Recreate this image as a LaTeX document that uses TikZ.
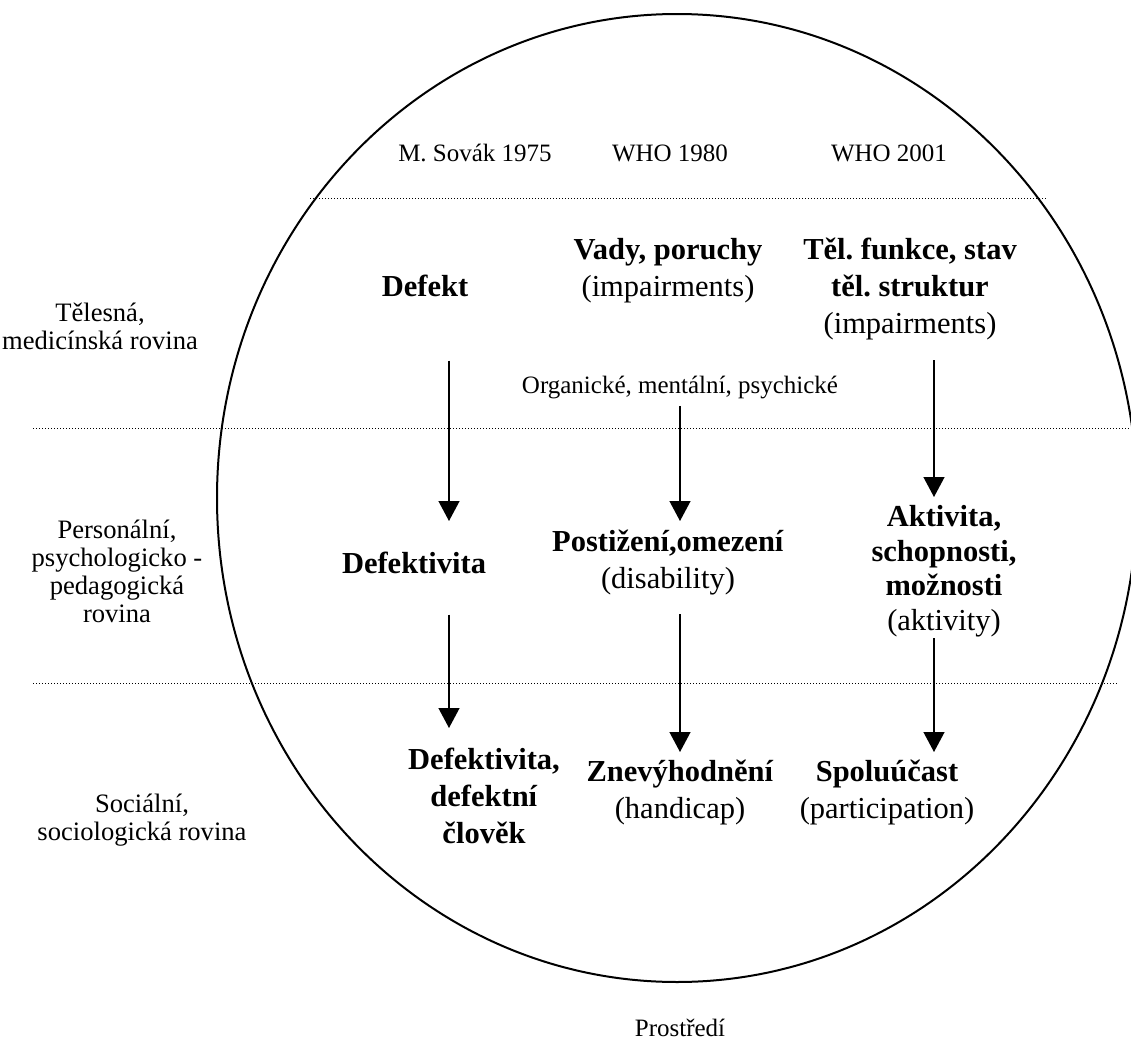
\documentclass[tikz,border=0pt]{standalone}
\usepackage{fontspec}
\setmainfont{Liberation Serif}
\frenchspacing
\usetikzlibrary{arrows.meta,positioning,calc}

\begin{document}
\begin{tikzpicture}[x=0.5pt, y=-0.5pt,
  small/.style={inner sep=0pt, align=center, font=\fontsize{12.5}{14}\selectfont},
  side/.style={small, font=\fontsize{13.3}{14}\selectfont},
  term/.style={inner sep=0pt, align=center, anchor=north, font=\fontsize{15.25}{18.5}\selectfont},
  arr/.style={-{Triangle[length=10pt, width=10.5pt]}, line width=0.65pt},
  level/.style={line width=0.5pt, dash pattern=on 0.5pt off 1pt}]
        \useasboundingbox (0,0) rectangle (1131,1039);

        % Environment and levels
        \draw[line width=1pt] (677,498) ellipse [x radius=230pt, y radius=242pt];
        \draw[level] (310,198) -- (1048,198);
        \draw[level] (33,428) -- (1131,428);
        \draw[level] (33,683) -- (1118,683);

        % Column heads
        \node[small] (hdrSovak) at (475,153) {M. Sovák 1975};
        \node[small] (hdrWho80) at (670,153) {WHO 1980};
        \node[small] (hdrWho01) at (889,153) {WHO 2001};

        % Levels (left)
        \node[side] (lvlTel) at (100,326.5) {Tělesná,\\medicínská rovina};
        \node[side] (lvlPers) at (117,571.5) {Personální,\\psychologicko -\\pedagogická\\rovina};
        \node[side] (lvlSoc) at (142,820) {Sociální,\\sociologická rovina};

        % Terms
        \node[term] (defekt) at (425,274.5) {\textbf{Defekt}};
        \node[term] (vady) at (668,237.5) {\textbf{Vady, poruchy}\\(impairments)};
        \node[term] (telfce) at (910,237.5) {\textbf{Těl. funkce, stav}\\\textbf{těl. struktur}\\(impairments)};
        \node[small] (organ) at (680,388) {Organické, mentální, psychické};

        \node[term] (defektivita) at (414,551.5) {\textbf{Defektivita}};
        \node[term] (postizeni) at (668,529.5) {\textbf{Postižení,omezení}\\(disability)};
        \node[term, font=\fontsize{15.25}{17.25}\selectfont] (aktivita) at (944,505) {\textbf{Aktivita,}\\\textbf{schopnosti,}\\\textbf{možnosti}\\(aktivity)};

        \node[term] (clovek) at (484,747.5) {\textbf{Defektivita,}\\\textbf{defektní}\\\textbf{člověk}};
        \node[term] (znevyh) at (680,759.5) {\textbf{Znevýhodnění}\\(handicap)};
        \node[term] (spoluucast) at (887,759.5) {\textbf{Spoluúčast}\\(participation)};

        \node[small] (prostredi) at (680,1028) {Prostředí};

        % Arrows
        \coordinate (colA) at (449,0);
        \coordinate (colB) at (680,0);
        \coordinate (colC) at (934,0);
        \draw[arr, shorten <=31.75pt, shorten >=15.25pt] (defekt.south -| colA) -- (defektivita.north -| colA);
        \draw[arr, shorten <=20.3pt, shorten >=9.75pt] (defektivita.south -| colA) -- (clovek.north -| colA);
        \draw[arr, shorten <=3pt, shorten >=4.25pt] (organ.south -| colB) -- (postizeni.north -| colB);
        \draw[arr, shorten <=9.5pt, shorten >=3.75pt] (postizeni.south -| colB) -- (znevyh.north -| colB);
        \draw[arr, shorten <=10pt, shorten >=4pt] (telfce.south -| colC) -- (aktivita.north -| colC);
        \draw[arr, shorten <=0.5pt, shorten >=3.75pt] (aktivita.south -| colC) -- (spoluucast.north -| colC);
      \end{tikzpicture}
\end{document}
